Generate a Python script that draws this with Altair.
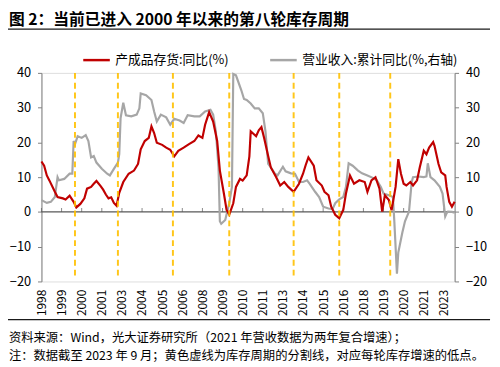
import altair as alt
import pandas as pd

FONT = "Noto Sans CJK SC"
RED_NAME = "产成品存货:同比(%)"
GRAY_NAME = "营业收入:累计同比(%,右轴)"
TITLE = "图 2：当前已进入 2000 年以来的第八轮库存周期"
NOTE1 = "资料来源：Wind，光大证券研究所（2021 年营收数据为两年复合增速）；"
NOTE2 = "注：数据截至 2023 年 9 月；黄色虚线为库存周期的分割线，对应每轮库存增速的低点。"

red_dates = ["1998-01", "1998-03", "1998-05", "1998-07", "1998-11", "1999-01", "1999-05", "1999-07",
             "1999-10", "2000-01", "2000-03", "2000-06", "2000-09", "2000-11", "2001-02", "2001-04",
             "2001-06", "2001-09", "2001-11", "2002-01", "2002-03", "2002-05", "2002-07", "2002-09",
             "2002-11", "2003-02", "2003-06", "2003-10", "2004-01", "2004-03", "2004-06", "2004-09",
             "2004-11", "2005-01", "2005-03", "2005-07", "2005-10", "2006-01", "2006-04", "2006-07",
             "2006-11", "2007-03", "2007-07", "2007-10", "2008-01", "2008-03", "2008-06", "2008-09",
             "2008-12", "2009-02", "2009-05", "2009-07", "2009-09", "2009-12", "2010-02", "2010-05",
             "2010-07", "2010-10", "2010-12", "2011-01", "2011-03", "2011-05", "2011-07", "2011-09",
             "2011-11", "2012-02", "2012-04", "2012-08", "2012-11", "2013-02", "2013-05", "2013-09",
             "2014-01", "2014-04", "2014-06", "2014-08", "2014-12", "2015-02", "2015-06", "2015-08",
             "2015-11", "2016-01", "2016-04", "2016-07", "2016-10", "2016-12", "2017-03", "2017-06",
             "2017-10", "2018-02", "2018-04", "2018-07", "2018-10", "2019-01", "2019-03", "2019-05",
             "2019-08", "2019-10", "2020-01", "2020-03", "2020-05", "2020-07", "2020-09", "2020-12",
             "2021-02", "2021-05", "2021-07", "2021-10", "2021-12", "2022-02", "2022-05", "2022-06",
             "2022-09", "2022-11", "2023-02", "2023-03", "2023-05", "2023-07", "2023-09"]
red_values = [14.5, 13.3, 10.5, 9.0, 5.8, 4.3, 3.9, 3.6,
              4.7, 2.9, 1.3, 2.3, 3.9, 6.7, 7.2, 8.1,
              8.9, 7.5, 6.4, 5.0, 3.9, 4.2, 2.6, 1.8,
              5.5, 8.6, 11.0, 11.9, 13.8, 18.0, 20.4, 21.3,
              24.6, 22.7, 19.9, 19.3, 18.5, 17.9, 16.0, 17.6,
              18.5, 19.5, 20.4, 22.0, 21.3, 25.1, 28.7, 26.0,
              20.4, 11.9, 5.3, 0.6, -0.8, 2.5, 7.2, 9.5,
              9.0, 10.5, 16.0, 23.2, 22.5, 21.8, 23.5, 24.4,
              21.3, 16.1, 12.8, 10.0, 7.6, 8.6, 7.2, 5.8,
              8.1, 11.0, 13.5, 15.7, 13.3, 9.1, 7.6, 5.8,
              4.8, 1.5, -0.8, -1.8, 0.6, 5.3, 10.5, 8.1,
              9.1, 8.6, 5.8, 9.1, 10.0, 6.7, 0.1, 4.8,
              3.4, 0.5, 7.2, 15.2, 11.0, 8.1, 7.6, 8.6,
              7.6, 9.1, 12.8, 17.6, 16.6, 18.5, 20.1, 19.0,
              13.8, 11.4, 10.5, 7.2, 2.9, 1.5, 2.9]

gray_dates = ["1998-01", "1998-05", "1998-08", "1998-11", "1999-01", "1999-02", "1999-06", "1999-10",
              "1999-12", "2000-01", "2000-02", "2000-04", "2000-07", "2000-10", "2000-12", "2001-02",
              "2001-04", "2001-06", "2001-10", "2002-02", "2002-04", "2002-07", "2002-10", "2002-11",
              "2002-12", "2003-02", "2003-04", "2003-08", "2003-12", "2004-02", "2004-03", "2004-07",
              "2004-11", "2005-01", "2005-03", "2005-06", "2005-10", "2006-01", "2006-04", "2006-08",
              "2006-11", "2007-02", "2007-07", "2007-11", "2008-03", "2008-07", "2008-09", "2008-11",
              "2009-01", "2009-02", "2009-03", "2009-06", "2009-09", "2009-11", "2009-12", "2010-02",
              "2010-06", "2010-08", "2010-10", "2011-01", "2011-04", "2011-07", "2011-10", "2011-12",
              "2012-02", "2012-04", "2012-07", "2012-09", "2013-01", "2013-03", "2013-07", "2013-10",
              "2014-01", "2014-04", "2014-07", "2014-09", "2015-01", "2015-04", "2015-07", "2015-11",
              "2016-02", "2016-04", "2016-07", "2016-10", "2016-12", "2017-02", "2017-05", "2017-09",
              "2017-12", "2018-04", "2018-08", "2018-11", "2019-02", "2019-04", "2019-08", "2019-11",
              "2019-12", "2020-02", "2020-03", "2020-06", "2020-08", "2020-11", "2021-01", "2021-02",
              "2021-06", "2021-10", "2021-12", "2022-01", "2022-03", "2022-06", "2022-10", "2022-12",
              "2023-02", "2023-03", "2023-04", "2023-07", "2023-09"]
gray_values = [3.4, 2.6, 2.9, 4.3, 10.0, 9.1, 9.5, 11.0,
               11.0, 20.4, 19.5, 21.8, 21.3, 22.1, 20.4, 15.7,
               16.1, 14.2, 12.4, 11.0, 10.5, 12.4, 14.2, 16.6,
               27.0, 31.4, 27.8, 27.5, 28.0, 29.8, 34.1, 33.6,
               32.2, 28.9, 26.0, 28.0, 27.2, 25.1, 26.8, 26.3,
               25.6, 27.8, 27.5, 27.5, 28.9, 29.4, 28.0, 23.2,
               12.8, -2.7, -3.4, -2.3, 2.5, 7.2, 39.7, 39.3,
               35.0, 32.5, 32.2, 31.2, 29.8, 29.8, 28.4, 23.2,
               13.8, 12.8, 11.0, 10.5, 13.0, 11.7, 11.1, 11.0,
               8.6, 8.6, 9.1, 8.1, 5.8, 4.3, 1.5, 1.0,
               0.8, 2.5, 3.6, 4.3, 7.2, 14.0, 13.3, 11.9,
               11.1, 10.5, 9.8, 9.1, 7.2, 5.3, 4.8, 4.3,
               -2.3, -17.8, -11.7, -6.0, -2.7, 0.1, 8.6, 10.0,
               10.2, 10.0, 10.2, 14.0, 10.0, 9.1, 7.2, 5.3,
               -1.3, -0.4, 0.1, 0.0, -0.2]

cycle_dates = ["2000-02", "2002-10", "2006-03", "2009-09", "2013-09", "2016-07", "2019-09"]
y_ticks = [-20, -10, 0, 10, 20, 30, 40]
x_tick_step = 15
first_year = 1998
last_date = "2023-09"


def month_index(s):
    y, m = s.split("-")
    return (int(y) - first_year) * 12 + int(m) - 1


last_idx = month_index(last_date)
x_ticks = list(range(0, last_idx, x_tick_step))

df = pd.DataFrame({
    "series": [RED_NAME] * len(red_dates) + [GRAY_NAME] * len(gray_dates),
    "date": red_dates + gray_dates,
    "value": red_values + gray_values,
})
df["idx"] = df["date"].map(month_index)
red_df = df[df["series"] == RED_NAME]
gray_df = df[df["series"] == GRAY_NAME]
cycles_df = pd.DataFrame({"idx": [month_index(d) for d in cycle_dates]})
ticks_df = pd.DataFrame({"idx": x_ticks})

x_scale = alt.Scale(domain=[0, last_idx], nice=False, zero=False)
y_scale = alt.Scale(domain=[-20, 40], nice=False, zero=False)
color_scale = alt.Scale(domain=[RED_NAME, GRAY_NAME], range=["#C00000", "#A6A6A6"])

x_axis = alt.Axis(values=x_ticks, labelExpr=f"toString({first_year} + floor(datum.value / 12))",
                  labelAngle=270, labelAlign="right", labelBaseline="middle", labelPadding=8,
                  ticks=False, domain=False, grid=False, title=None, labelFontSize=12,
                  labelColor="#000000", labelFont=FONT)


def y_axis(orient):
    return alt.Axis(values=y_ticks, orient=orient, grid=False, title=None, tickSize=4,
                    tickColor="#808080", domainColor="#808080", labelPadding=7,
                    labelFontSize=13, labelColor="#000000", labelFont=FONT)


legend = alt.Legend(orient="none", legendX=41, legendY=-28, direction="horizontal", title=None,
                    symbolType="stroke", symbolSize=729, symbolStrokeWidth=2.5, labelFontSize=13,
                    labelFont=FONT, labelColor="#000000", columnPadding=36, labelOffset=4, padding=0)

zero_line = alt.Chart(pd.DataFrame({"v": [0]})).mark_rule(color="#595959", strokeWidth=1.2).encode(
    y=alt.Y("v:Q", scale=y_scale, axis=None)
)
tick_marks = alt.Chart(ticks_df).mark_tick(orient="vertical", size=4, thickness=1, yOffset=-2,
                                          color="#595959").encode(
    x=alt.X("idx:Q", scale=x_scale, axis=x_axis),
    y=alt.YDatum(0, scale=y_scale, axis=None),
)
gray_line = alt.Chart(gray_df).mark_line(strokeWidth=2.2).encode(
    x=alt.X("idx:Q", scale=x_scale, axis=x_axis),
    y=alt.Y("value:Q", scale=y_scale, axis=y_axis("right")),
    color=alt.Color("series:N", scale=color_scale, legend=legend),
)
red_line = alt.Chart(red_df).mark_line(strokeWidth=2.2).encode(
    x=alt.X("idx:Q", scale=x_scale, axis=x_axis),
    y=alt.Y("value:Q", scale=y_scale, axis=y_axis("left")),
    color=alt.Color("series:N", scale=color_scale, legend=legend),
)
cycle_lines = alt.Chart(cycles_df).mark_rule(color="#FFC000", strokeWidth=2, strokeDash=[6, 4],
                                             opacity=0.9).encode(
    x=alt.X("idx:Q", scale=x_scale, axis=x_axis),
    y=alt.YDatum(40, scale=y_scale, axis=None),
    y2=alt.Y2Datum(-19),
)

one = pd.DataFrame({"k": [0]})
title_text = alt.Chart(one).mark_text(align="left", baseline="middle", fontSize=16, fontWeight="bold",
                                      font=FONT, color="#000000").encode(
    x=alt.value(-33), y=alt.value(-53.5), text=alt.value(TITLE))
title_rule = alt.Chart(one).mark_rule(color="#1a1a1a", strokeWidth=1.5).encode(
    x=alt.value(-34), x2=alt.value(456), y=alt.value(-44.5))
sep_rule = alt.Chart(one).mark_rule(color="#1a1a1a", strokeWidth=1.3).encode(
    x=alt.value(-34), x2=alt.value(456), y=alt.value(250.7))
note1 = alt.Chart(one).mark_text(align="left", baseline="middle", fontSize=12.5, font=FONT,
                                 color="#000000").encode(
    x=alt.value(-33), y=alt.value(270), text=alt.value(NOTE1))
note2 = alt.Chart(one).mark_text(align="left", baseline="middle", fontSize=12.5, font=FONT,
                                 color="#000000").encode(
    x=alt.value(-33), y=alt.value(288), text=alt.value(NOTE2))

chart = alt.layer(
    zero_line, tick_marks, gray_line, red_line, cycle_lines,
    title_text, title_rule, sep_rule, note1, note2,
).resolve_scale(y="independent").properties(
    width=420, height=212,
    autosize=alt.AutoSizeParams(type="none"),
    padding={"left": 34, "top": 63, "right": 38, "bottom": 84},
).configure_view(stroke=None).configure(background="#ffffff")

chart.save("out.html", embed_options={"renderer": "svg", "actions": False})
